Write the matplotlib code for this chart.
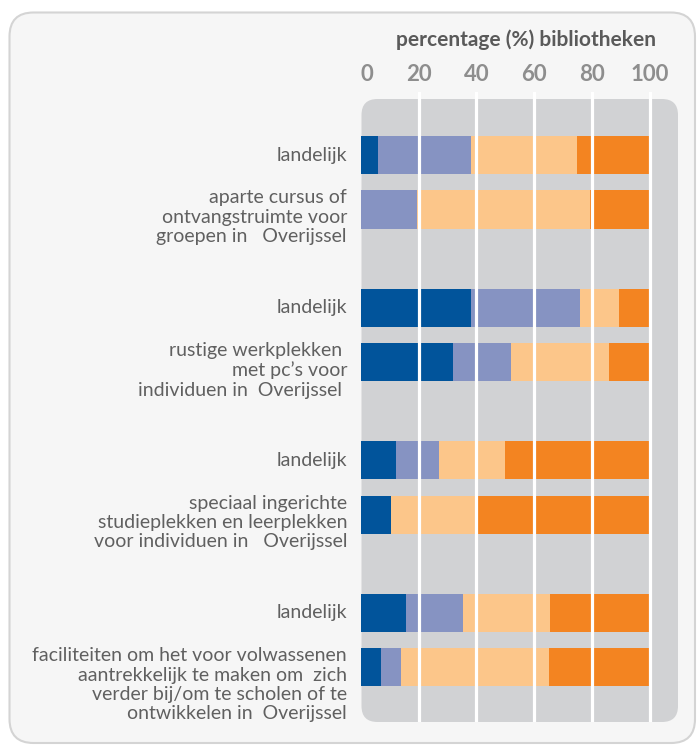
import matplotlib
matplotlib.use("Agg")
import matplotlib.pyplot as plt
from matplotlib.patches import FancyBboxPatch
import matplotlib.transforms as mtransforms
import numpy as np

# ---- data ----
categories = [
    "landelijk",
    "aparte cursus of\nontvangstruimte voor\ngroepen in   Overijssel",
    "landelijk",
    "rustige werkplekken \nmet pc\u2019s voor\nindividuen in  Overijssel ",
    "landelijk",
    "speciaal ingerichte\nstudieplekken en leerplekken\nvoor individuen in   Overijssel",
    "landelijk",
    "faciliteiten om het voor volwassenen\naantrekkelijk te maken om  zich\nverder bij/om te scholen of te\nontwikkelen in  Overijssel",
]
series1 = [6, 0, 38, 32, 12, 10.5, 15.5, 7]       # dark blue
series2 = [32, 19.5, 38, 20, 15, 0, 20, 7]        # light blue
series3 = [37, 60, 13.5, 34, 23, 29, 30, 51]      # peach
series4 = [25, 20.5, 10.5, 14, 50, 60.5, 34.5, 35]  # orange
tick_values = [0, 20, 40, 60, 80, 100]
tick_labels = ["0", "20", "40", "60", "80", "100"]
axis_title = "percentage (%) bibliotheken"

colors = ["#01549B", "#8693C2", "#FCC68A", "#F38421"]

W, H = 697, 745
fig = plt.figure(figsize=(W / 100, H / 100), dpi=100)
fig.patch.set_facecolor("white")


def rrect(x0, y0, x1, y1, r, **kw):
    return FancyBboxPatch((x0 / W, 1 - y1 / H), (x1 - x0) / W, (y1 - y0) / H,
                          boxstyle=f"round,pad=0,rounding_size={r / W}",
                          mutation_aspect=W / H, transform=fig.transFigure, **kw)


fig.patches.append(rrect(9.5, 12.5, 695, 743, 24, facecolor="#F6F6F6",
                         edgecolor="#D4D4D4", linewidth=1.5, zorder=-3))
fig.patches.append(rrect(361.5, 99, 678, 722, 16, facecolor="#D1D2D4",
                         edgecolor="none", zorder=-2))

# axes geometry (pixels)
ax_top, ax_bot, ax_left, ax_right = 92, 722, 361, 678
px_per_unit = 2.885
row_px = 54.5
first_center = 155
ax = fig.add_axes([ax_left / W, 1 - ax_bot / H, (ax_right - ax_left) / W, (ax_bot - ax_top) / H])
ax.set_facecolor("none")
ax.set_xlim(0, (ax_right - ax_left) / px_per_unit)
ax.set_ylim((ax_bot - first_center) / row_px, (ax_top - first_center) / row_px)

n = len(categories)
ypos = np.array([(i // 2) * 2.8 + (i % 2) for i in range(n)])
bar_h = 0.70

left = np.zeros(n)
for vals, c in zip([series1, series2, series3, series4], colors):
    vals = np.array(vals, dtype=float)
    ax.barh(ypos, vals, left=left, height=bar_h, color=c, edgecolor="none", zorder=2)
    left += vals

for v in tick_values[1:]:
    ax.axvline(v, color="white", linewidth=2.3, zorder=3)

for sp in ax.spines.values():
    sp.set_visible(False)
ax.set_yticks([])
ax.xaxis.tick_top()
ax.set_xticks(tick_values)
ax.set_xticklabels(tick_labels)
ax.tick_params(axis="x", length=0, pad=5, labelsize=16, labelcolor="#8E8E8E")
for lbl in ax.get_xticklabels():
    lbl.set_fontfamily("Lato")
    lbl.set_fontweight("bold")
first = ax.get_xticklabels()[0]
first.set_transform(first.get_transform() +
                    mtransforms.ScaledTranslation(6 / 100, 0, fig.dpi_scale_trans))

label_x = -(ax_left - 347) / px_per_unit
for i, (y, lab) in enumerate(zip(ypos, categories)):
    if i % 2 == 0:
        ax.text(label_x, y, lab, ha="right", va="center", fontsize=14,
                family="Lato", color="#606060", clip_on=False)
    else:
        ax.text(label_x, y - bar_h / 2 - 0.02, lab, ha="right", va="top", fontsize=14,
                family="Lato", color="#606060", linespacing=1.17, clip_on=False,
                multialignment="right")

fig.text(526 / W, 1 - 40 / H, axis_title, ha="center", va="center",
         fontsize=15, fontweight="bold", family="Lato", color="#5A5A5A")

fig.savefig("out.png", dpi=100)
